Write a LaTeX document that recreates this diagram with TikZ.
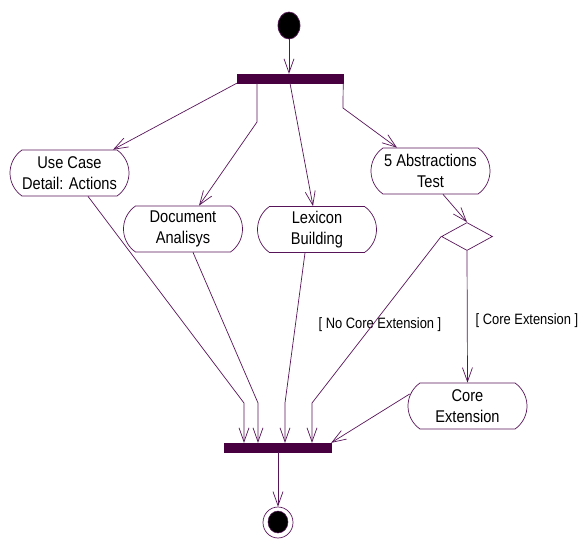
\documentclass[tikz,border=0pt]{standalone}
\usepackage{fontspec}
\setmainfont{Liberation Sans}[FakeStretch=0.86]
\usetikzlibrary{arrows.meta,shapes.misc,shapes.geometric}
\definecolor{umlline}{RGB}{88,20,88}
\definecolor{umlbar}{RGB}{72,0,64}
\tikzset{
  act/.style={rounded rectangle, rounded rectangle arc length=110, draw=umlline, line width=0.7pt,
    minimum width=119pt, minimum height=46pt, inner sep=0pt, align=center,
    font=\fontsize{17}{21}\selectfont},
  syncbar/.style={rectangle, fill=umlbar, draw=umlbar, inner sep=0pt},
  conn/.style={draw=umlline, line width=0.7pt},
  arr/.style={conn, -{Straight Barb[length=14pt,width=10pt,line width=0.7pt]}},
  guard/.style={font=\fontsize{15}{18}\selectfont, inner sep=0pt},
}
\begin{document}
\begin{tikzpicture}[x=1pt,y=-1pt]
\useasboundingbox (0,0) rectangle (582,539);
% start and end
\node (start) [ellipse, fill=black, draw=umlline, line width=0.7pt, minimum width=22pt, minimum height=27pt, inner sep=0pt] at (289,25.5) {};
\node (endo) [ellipse, draw=umlline, line width=0.7pt, minimum width=30pt, minimum height=31pt, inner sep=0pt] at (278,522.5) {};
\node (endi) [ellipse, fill=black, draw=umlline, line width=0.5pt, minimum width=20pt, minimum height=22pt, inner sep=0pt] at (278,522) {};
% bars
\node (topbar) [syncbar, minimum width=106pt, minimum height=9pt] at (290,78.5) {};
\node (botbar) [syncbar, minimum width=107pt, minimum height=9pt] at (277.5,447.5) {};
% activities
\node (uc) [act] at (69.5,173) {Use Case\\Detail: Actions};
\node (doc) [act] at (183,229) {Document\\Analisys};
\node (lex) [act] at (317,229.5) {Lexicon\\Building};
\node (abs) [act] at (430.5,171) {5 Abstractions\\Test};
\node (ce) [act] at (467.5,406) {Core\\Extension};
% decision
\node (dia) [diamond, draw=umlline, line width=0.7pt, minimum width=51pt, minimum height=28pt, inner sep=0pt] at (467,236.5) {};
% guards
\node (g1) [guard] at (380,325) {[ No Core Extension ]};
\node (g2) [guard] at (527,321) {[ Core Extension ]};
% bend points
\coordinate (b2) at (257,122);
\coordinate (b4) at (343,108);
\coordinate (bu) at (244,403);
\coordinate (bd) at (258,403);
\coordinate (bl) at (285,403);
\coordinate (bn) at (312,403);
% connectors
\draw[arr] (start) -- (start |- topbar.north);
\draw[arr] (topbar.south west) -- ([xshift=43.5pt]uc.north);
\draw[arr] (topbar.south -| b2) -- (b2) -- ([xshift=16pt]doc.north);
\draw[arr] (topbar.south) -- ([xshift=-4pt]lex.north);
\draw[arr] (topbar.south east) -- (b4) -- ([xshift=-33.5pt]abs.north);
\draw[arr] ([xshift=12.5pt]abs.south) -- (dia.north);
\draw[arr] (dia.south) -- (ce.north);
\draw[arr] (dia.west) -- (bn) -- (bn |- botbar.north);
\draw[arr] ([xshift=18.5pt]uc.south) -- (bu) -- (bu |- botbar.north);
\draw[arr] ([xshift=10pt]doc.south) -- (bd) -- (bd |- botbar.north);
\draw[arr] ([xshift=-12pt]lex.south) -- (bl) -- (bl |- botbar.north);
\draw[arr] ([xshift=2pt,yshift=12pt]ce.west) -- (botbar.north east);
\draw[arr] (botbar.south -| endo.north) -- (endo.north);
\end{tikzpicture}
\end{document}
